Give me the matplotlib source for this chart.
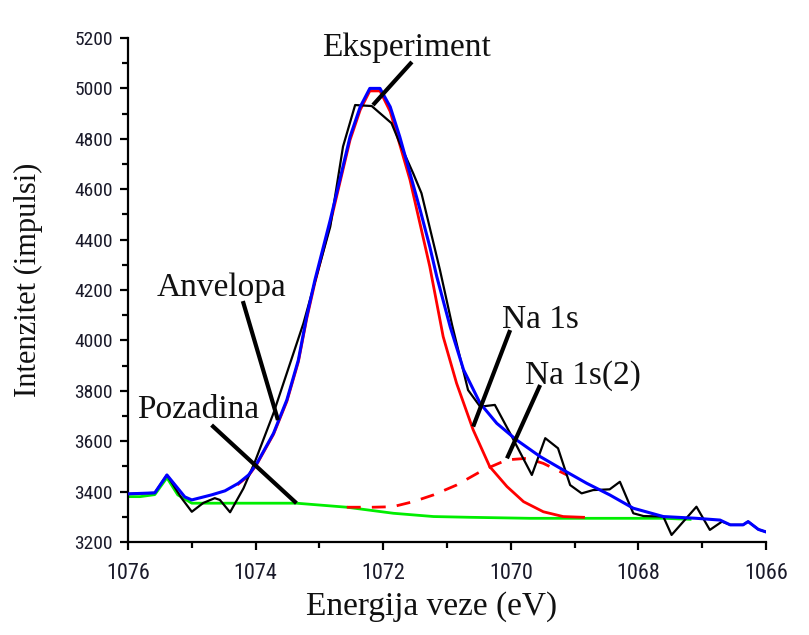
import matplotlib
matplotlib.use("Agg")
import matplotlib.pyplot as plt
from matplotlib.ticker import MultipleLocator

# ---------------- data ----------------
# Experimental spectrum (black)
exp_E = [1076.00, 1075.58, 1075.39, 1075.16, 1075.00, 1074.82, 1074.64, 1074.56,
         1074.40, 1074.19, 1074.01, 1073.72, 1073.25, 1072.83, 1072.63, 1072.44,
         1072.18, 1071.87, 1071.74, 1071.53, 1071.40, 1071.11, 1070.92, 1070.67,
         1070.48, 1070.25, 1070.01, 1069.67, 1069.46, 1069.26, 1069.07, 1068.89,
         1068.71, 1068.45, 1068.29, 1068.08, 1067.92, 1067.61, 1067.48, 1067.09,
         1066.88, 1066.69, 1066.56, 1066.36, 1066.28, 1066.12, 1066.00]
exp_I = [3391, 3395, 3466, 3374, 3320, 3355, 3374, 3367,
         3318, 3413, 3519, 3711, 4068, 4451, 4769, 4934,
         4930, 4862, 4782, 4663, 4584, 4279, 4061, 3803,
         3737, 3744, 3631, 3466, 3612, 3572, 3426, 3393,
         3406, 3409, 3439, 3314, 3303, 3301, 3228, 3340,
         3248, 3281, 3268, 3268, 3281, 3250, 3240]

# Envelope (blue)
env_E = [1076.00, 1075.58, 1075.39, 1075.11, 1075.00, 1074.69, 1074.48, 1074.27,
         1074.11, 1073.98, 1073.72, 1073.51, 1073.33, 1073.20, 1073.07, 1072.83,
         1072.68, 1072.52, 1072.36, 1072.21, 1072.05, 1071.89, 1071.74, 1071.58,
         1071.42, 1071.27, 1071.16, 1070.95, 1070.74, 1070.48, 1070.22, 1069.91,
         1069.54, 1069.18, 1068.81, 1068.45, 1068.08, 1067.61, 1067.09, 1066.72,
         1066.56, 1066.36, 1066.28, 1066.12, 1066.00]
env_I = [3391, 3395, 3466, 3379, 3367, 3387, 3403, 3433,
         3466, 3512, 3631, 3764, 3922, 4094, 4240, 4478,
         4637, 4808, 4927, 5000, 5000, 4927, 4808, 4663,
         4517, 4372, 4253, 4054, 3883, 3750, 3671, 3605,
         3539, 3486, 3433, 3387, 3334, 3301, 3294, 3287,
         3268, 3268, 3281, 3250, 3240]

# Na 1s component + background (red solid)
na1_E = [1074.27, 1074.11, 1073.98, 1073.72, 1073.51, 1073.33, 1073.20, 1073.07,
         1072.83, 1072.68, 1072.52, 1072.36, 1072.21, 1072.05, 1071.89, 1071.58,
         1071.27, 1071.06, 1070.85, 1070.59, 1070.33, 1070.06, 1069.80, 1069.49,
         1069.18, 1068.86]
na1_I = [3430, 3463, 3509, 3627, 3758, 3915, 4085, 4230,
         4465, 4625, 4795, 4915, 4990, 4990, 4908, 4637,
         4293, 4015, 3830, 3645, 3499, 3420, 3360, 3320,
         3301, 3298]

# Na 1s(2) component + background (red dashed)
na2_E = [1072.57, 1072.16, 1071.85, 1071.53, 1071.21, 1070.85, 1070.43, 1070.06,
         1069.75, 1069.49, 1069.28, 1069.12]
na2_I = [3338, 3338, 3340, 3360, 3387, 3426, 3486, 3526,
         3532, 3512, 3486, 3466]

# Background (green)
bg_E = [1076.00, 1075.81, 1075.58, 1075.39, 1075.22, 1075.00, 1073.96, 1073.36,
        1072.57, 1071.84, 1071.21, 1070.64, 1069.70, 1067.61, 1067.19]
bg_I = [3380, 3380, 3388, 3455, 3387, 3354, 3354, 3354,
        3338, 3314, 3301, 3298, 3294, 3294, 3290]

x_ticks = [1076, 1074, 1072, 1070, 1068, 1066]
y_ticks = [3200, 3400, 3600, 3800, 4000, 4200, 4400, 4600, 4800, 5000, 5200]

labels = ["Eksperiment", "Anvelopa", "Pozadina", "Na 1s", "Na 1s(2)"]

# ---------------- layout / styling ----------------
serif = ["Liberation Serif", "DejaVu Serif"]
narrow = ["Roboto Condensed", "DejaVu Sans"]

# label text positions and leader lines (data coordinates)
label_pos = {
    "Eksperiment": (1071.63, 5162),
    "Anvelopa": (1074.53, 4210),
    "Pozadina": (1074.90, 3726),
    "Na 1s": (1069.53, 4081),
    "Na 1s(2)": (1068.87, 3860),
}
leaders = {
    "Eksperiment": ((1071.55, 5105), (1072.16, 4934)),
    "Anvelopa": ((1074.20, 4156), (1073.65, 3684)),
    "Pozadina": ((1074.69, 3664), (1073.36, 3354)),
    "Na 1s": ((1070.01, 4041), (1070.59, 3658)),
    "Na 1s(2)": ((1069.54, 3823), (1070.06, 3532)),
}

fig = plt.figure(figsize=(8.09, 6.35), dpi=100)
ax = fig.add_axes([128 / 809, 1 - 542 / 635, (766 - 128) / 809, (542 - 38) / 635])

ax.plot(bg_E, bg_I, color="#00ee00", lw=2.0, zorder=2)
ax.plot(na1_E, na1_I, color="#ff0000", lw=2.0, zorder=3)
ax.plot(na2_E, na2_I, color="#ff0000", lw=2.0, ls=(0, (5, 4)), zorder=3)
ax.plot(exp_E, exp_I, color="black", lw=1.6, zorder=4)
ax.plot(env_E, env_I, color="#0000ff", lw=2.2, zorder=5)

for name in labels:
    tx, ty = label_pos[name]
    ax.text(tx, ty, name, ha="center", va="center", fontsize=24,
            family=serif, color="#111111", zorder=7)
    (x0, y0), (x1, y1) = leaders[name]
    ax.plot([x0, x1], [y0, y1], color="black", lw=3.0,
            solid_capstyle="butt", zorder=6)

ax.set_xlim(1076, 1066)
ax.set_ylim(3200, 5200)
ax.set_xticks(x_ticks)
ax.set_yticks(y_ticks)
ax.xaxis.set_minor_locator(MultipleLocator(1))
ax.yaxis.set_minor_locator(MultipleLocator(100))

for s in ["top", "right"]:
    ax.spines[s].set_visible(False)
for s in ["left", "bottom"]:
    ax.spines[s].set_linewidth(1.6)

ax.tick_params(which="major", direction="out", length=6, width=1.6, color="black")
ax.tick_params(which="minor", direction="out", length=4, width=1.6, color="black")
ax.tick_params(axis="x", which="major", pad=9)
ax.tick_params(axis="y", which="major", pad=5)

for lab in ax.get_xticklabels():
    lab.set_fontfamily(narrow)
    lab.set_fontstretch("condensed")
    lab.set_fontsize(16)
    lab.set_color("#1a1a2a")
for lab in ax.get_yticklabels():
    lab.set_fontfamily(narrow)
    lab.set_fontstretch("condensed")
    lab.set_fontsize(14)
    lab.set_color("#1a1a2a")

ax.set_xlabel("Energija veze (eV)", fontsize=24, family=serif, color="#111111")
ax.set_ylabel("Intenzitet (impulsi)", fontsize=22, family=serif, color="#111111")
ax.xaxis.label.set_va("center")
ax.yaxis.label.set_va("center")
ax.xaxis.set_label_coords((432 - 128) / 638, (542 - 607) / 504)
ax.yaxis.set_label_coords((28 - 128) / 638, (542 - 280) / 504)

fig.savefig("out.png", dpi=100)
